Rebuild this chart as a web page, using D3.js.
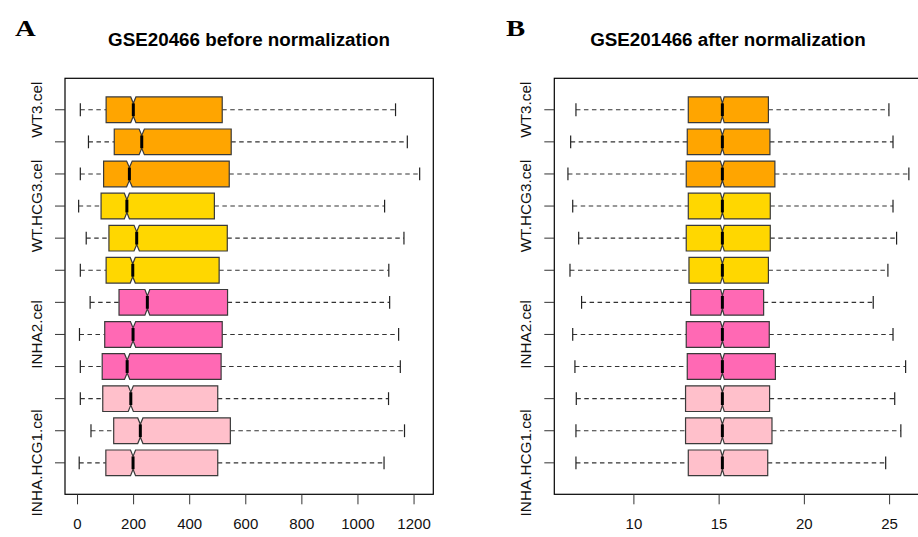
<!DOCTYPE html>
<meta charset="utf-8">
<script src="https://d3js.org/d3.v7.min.js"></script>
<style>
body { margin: 0; background: #fff; }
svg { display: block; font-family: "Liberation Sans", Arial, sans-serif; }
</style>
<div id="my_dataviz"></div>
<script>

// sample names, listed bottom to top (same order as the boxplot positions)
var samples = ["INHA.HCG1.cel", "INHA.HCG2.cel", "INHA.HCG3.cel",
               "INHA1.cel", "INHA2.cel", "INHA3.cel",
               "WT.HCG1.cel", "WT.HCG2.cel", "WT.HCG3.cel",
               "WT1.cel", "WT2.cel", "WT3.cel"];
var groupColors = ["#FFC0CB", "#FFC0CB", "#FFC0CB",
                   "#FF69B4", "#FF69B4", "#FF69B4",
                   "#FFD700", "#FFD700", "#FFD700",
                   "#FFA500", "#FFA500", "#FFA500"];

// panel A - before normalization (whisker low, Q1, median, Q3, whisker high)
var loA  = [6, 48, 10, 10, 7, 45, 10, 31, 4, 10, 39, 10];
var q1A  = [101, 129, 90, 88, 97, 148, 102, 112, 84, 93, 131, 102];
var medA = [198, 224, 190, 177, 198, 249, 197, 211, 176, 185, 229, 199];
var q3A  = [500, 545, 500, 512, 516, 535, 505, 534, 488, 541, 548, 516];
var hiA  = [1093, 1166, 1109, 1151, 1145, 1113, 1110, 1164, 1095, 1220, 1176, 1134];
var ticksA = [0, 200, 400, 600, 800, 1000, 1200];

// panel B - after normalization
var loB  = [6.60, 6.60, 6.62, 6.54, 6.41, 6.93, 6.25, 6.76, 6.41, 6.13, 6.29, 6.60];
var q1B  = [13.19, 13.03, 13.03, 13.13, 13.07, 13.33, 13.23, 13.07, 13.19, 13.07, 13.13, 13.19];
var medB = [15.19, 15.19, 15.19, 15.19, 15.19, 15.19, 15.19, 15.19, 15.19, 15.19, 15.19, 15.19];
var q3B  = [17.85, 18.10, 17.96, 18.30, 17.94, 17.61, 17.89, 18.00, 18.00, 18.27, 17.98, 17.89];
var hiB  = [24.77, 25.66, 25.30, 25.94, 25.20, 24.04, 24.90, 25.41, 25.20, 26.13, 25.20, 24.96];
var ticksB = [10, 15, 20, 25];

// probes per array, only used for the notch size
var nProbes = 5000;

var svg = d3.select("#my_dataviz")
  .append("svg")
    .attr("width", 918)
    .attr("height", 537);

function drawPanel(p) {
  var n = samples.length;
  var g = svg.append("g");

  // R style 4% extension of the data range
  var xmin = d3.min(p.lo), xmax = d3.max(p.hi);
  var ext = (xmax - xmin) * 0.04;
  var x = d3.scaleLinear()
    .domain([xmin - ext, xmax + ext])
    .range([p.left, p.right]);
  var y = d3.scaleLinear()
    .domain([0.5 - 0.04 * n, n + 0.5 + 0.04 * n])
    .range([p.bottom, p.top]);

  var data = samples.map(function(s, i) {
    var iqr = p.q3[i] - p.q1[i];
    var c = 1.58 * iqr / Math.sqrt(nProbes);
    return {name: s, pos: i + 1, lo: p.lo[i], q1: p.q1[i], med: p.med[i],
            q3: p.q3[i], hi: p.hi[i], cLo: p.med[i] - c, cHi: p.med[i] + c,
            fill: groupColors[i]};
  });

  var rows = g.selectAll(".row")
    .data(data)
    .enter().append("g")
      .attr("class", "row");

  function half(d) { return Math.abs(y(d.pos) - y(d.pos + 0.4)); }

  // whiskers
  rows.append("line")
    .attr("x1", function(d) { return x(d.lo); })
    .attr("x2", function(d) { return x(d.q1); })
    .attr("y1", function(d) { return y(d.pos); })
    .attr("y2", function(d) { return y(d.pos); })
    .style("stroke", "#333").style("stroke-width", 1.1)
    .style("stroke-dasharray", "4.5,3.5");
  rows.append("line")
    .attr("x1", function(d) { return x(d.q3); })
    .attr("x2", function(d) { return x(d.hi); })
    .attr("y1", function(d) { return y(d.pos); })
    .attr("y2", function(d) { return y(d.pos); })
    .style("stroke", "#333").style("stroke-width", 1.1)
    .style("stroke-dasharray", "4.5,3.5");

  // staples
  ["lo", "hi"].forEach(function(k) {
    rows.append("line")
      .attr("x1", function(d) { return x(d[k]); })
      .attr("x2", function(d) { return x(d[k]); })
      .attr("y1", function(d) { return y(d.pos) - half(d) / 2; })
      .attr("y2", function(d) { return y(d.pos) + half(d) / 2; })
      .style("stroke", "#222").style("stroke-width", 1.2);
  });

  // notched boxes
  rows.append("path")
    .attr("d", function(d) {
      var cy = y(d.pos), h = half(d);
      var pts = [[x(d.q1), cy - h], [x(d.cLo), cy - h], [x(d.med), cy - h / 2],
                 [x(d.cHi), cy - h], [x(d.q3), cy - h], [x(d.q3), cy + h],
                 [x(d.cHi), cy + h], [x(d.med), cy + h / 2], [x(d.cLo), cy + h],
                 [x(d.q1), cy + h]];
      return "M" + pts.join("L") + "Z";
    })
    .style("fill", function(d) { return d.fill; })
    .style("stroke", "#3a3a3a")
    .style("stroke-width", 1.2);

  // medians
  rows.append("line")
    .attr("x1", function(d) { return x(d.med); })
    .attr("x2", function(d) { return x(d.med); })
    .attr("y1", function(d) { return y(d.pos) - half(d) / 2; })
    .attr("y2", function(d) { return y(d.pos) + half(d) / 2; })
    .style("stroke", "#000").style("stroke-width", 3);

  // frame
  g.append("rect")
    .attr("x", p.left).attr("y", p.top)
    .attr("width", p.right - p.left).attr("height", p.bottom - p.top)
    .style("fill", "none").style("stroke", "#000").style("stroke-width", 1.2);

  // x axis ticks
  g.selectAll(".xt")
    .data(p.ticks)
    .enter().append("line")
      .attr("x1", function(d) { return x(d); })
      .attr("x2", function(d) { return x(d); })
      .attr("y1", p.bottom).attr("y2", p.bottom + 10)
      .style("stroke", "#333");
  g.selectAll(".xl")
    .data(p.ticks)
    .enter().append("text")
      .attr("x", function(d) { return x(d); })
      .attr("y", p.bottom + 35)
      .attr("text-anchor", "middle")
      .style("font-size", "15px")
      .style("fill", "#111")
      .text(function(d) { return d; });

  // y axis ticks
  g.selectAll(".yt")
    .data(data)
    .enter().append("line")
      .attr("x1", p.left - 10).attr("x2", p.left)
      .attr("y1", function(d) { return y(d.pos); })
      .attr("y2", function(d) { return y(d.pos); })
      .style("stroke", "#333");

  // y labels, skipping ones that would collide (like R does)
  var labels = g.selectAll(".yl")
    .data(data)
    .enter().append("text")
      .attr("transform", function(d) {
        return "translate(" + (p.left - 23.5) + "," + y(d.pos) + ") rotate(-90)";
      })
      .attr("text-anchor", "middle")
      .style("font-size", "15.3px")
      .style("fill", "#111")
      .text(function(d) { return d.name; });

  var mText = g.append("text").style("font-size", "15px").text("m");
  var gap = 1.5 * mText.node().getComputedTextLength();
  mText.remove();

  var edge = Infinity;
  labels.each(function(d) {
    var len = this.getComputedTextLength();
    var cy = y(d.pos);
    if (cy + len / 2 <= edge - gap) {
      edge = cy - len / 2;
    } else {
      d3.select(this).remove();
    }
  });

  // title and panel letter
  g.append("text")
    .attr("x", p.titleX).attr("y", 46)
    .attr("text-anchor", "middle")
    .style("font-size", "18.8px")
    .style("font-weight", "bold")
    .text(p.title);

  g.append("text")
    .attr("transform", "translate(" + p.letterX + ",35.5) scale(1.25,1)")
    .style("font-family", "'Liberation Serif', 'DejaVu Serif', serif")
    .style("font-weight", "bold")
    .style("font-size", "23px")
    .text(p.letter);
}

drawPanel({
  left: 65, right: 433.3, top: 78.3, bottom: 494.3,
  lo: loA, q1: q1A, med: medA, q3: q3A, hi: hiA, ticks: ticksA,
  title: "GSE20466 before normalization", titleX: 249,
  letter: "A", letterX: 15
});

drawPanel({
  left: 554.3, right: 922.5, top: 78.3, bottom: 494.3,
  lo: loB, q1: q1B, med: medB, q3: q3B, hi: hiB, ticks: ticksB,
  title: "GSE201466 after normalization", titleX: 728,
  letter: "B", letterX: 506
});

</script>
